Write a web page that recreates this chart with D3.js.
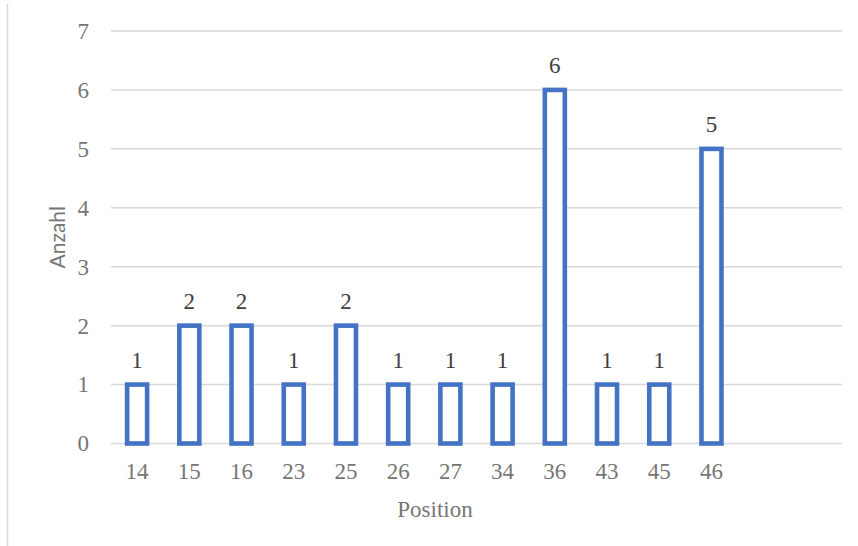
<!DOCTYPE html>
<html>
<head>
<meta charset="utf-8">
<script src="https://cdn.jsdelivr.net/npm/d3@7"></script>
<style>
  html, body { margin: 0; padding: 0; background: #fff; }
  svg text { font-family: "Liberation Serif", "Times New Roman", serif; }
  svg text.sans { font-family: Lato, Carlito, "Liberation Sans", sans-serif; }
</style>
</head>
<body>
<svg id="chart" width="858" height="546"></svg>
<script>
// Positions on the x axis (two trailing empty slots keep the axis width)
const positions = ["14", "15", "16", "23", "25", "26", "27", "34", "36", "43", "45", "46", "", " "];
const counts = [1, 2, 2, 1, 2, 1, 1, 1, 6, 1, 1, 5];
const yTicks = [0, 1, 2, 3, 4, 5, 6, 7];

const svg = d3.select("#chart");
const W = 858, H = 546;
const plot = { left: 111, right: 842, top: 31, bottom: 443.5 };
const fontSize = 23;

// Outer frame line on the left edge
svg.append("line")
  .attr("x1", 7.5).attr("x2", 7.5).attr("y1", 4).attr("y2", H)
  .attr("stroke", "#d9d9d9").attr("stroke-width", 1.5);

const x = d3.scaleBand().domain(positions).range([plot.left, plot.right]).paddingInner(0).paddingOuter(0);
const y = d3.scaleLinear().domain([0, 7]).range([plot.bottom, plot.top]);

// Horizontal gridlines
svg.append("g").selectAll("line").data(yTicks).join("line")
  .attr("x1", plot.left).attr("x2", plot.right)
  .attr("y1", d => y(d)).attr("y2", d => y(d))
  .attr("stroke", "#d9d9d9").attr("stroke-width", 1.5);

// Y tick labels
const yAxis = d3.axisLeft(y).tickValues(yTicks).tickFormat(d3.format("d")).tickSize(0).tickPadding(0);
const gy = svg.append("g").attr("transform", `translate(${plot.left - 22},0)`).call(yAxis);
gy.select(".domain").remove();
gy.selectAll("text")
  .attr("font-family", null)
  .attr("font-size", fontSize).attr("fill", "#767676");

// X tick labels
const xAxis = d3.axisBottom(x).tickSize(0).tickPadding(0);
const gx = svg.append("g").attr("transform", `translate(0,${plot.bottom})`).call(xAxis);
gx.select(".domain").remove();
gx.selectAll("text")
  .attr("dy", null).attr("y", 35.5)
  .attr("font-size", fontSize).attr("fill", "#767676");

// Outlined bars
const barW = 20;
const data = counts.map((v, i) => ({ pos: positions[i], v }));
svg.append("g").selectAll("rect").data(data).join("rect")
  .attr("x", d => x(d.pos) + x.bandwidth() / 2 - barW / 2)
  .attr("width", barW)
  .attr("y", d => y(d.v))
  .attr("height", d => y(0) - y(d.v))
  .attr("fill", "#fff")
  .attr("stroke", "#4472c4")
  .attr("stroke-width", 4.6);

// Value labels above bars
svg.append("g").selectAll("text").data(data).join("text")
  .attr("x", d => x(d.pos) + x.bandwidth() / 2)
  .attr("y", d => y(d.v) - 17)
  .attr("text-anchor", "middle")
  .attr("font-size", fontSize).attr("fill", "#404040")
  .text(d => d.v);

// Axis titles
svg.append("text")
  .attr("x", 435).attr("y", 517)
  .attr("text-anchor", "middle")
  .attr("font-size", fontSize).attr("fill", "#767676")
  .text("Position");

svg.append("text")
  .attr("class", "sans")
  .attr("transform", `translate(65,${(plot.top + plot.bottom) / 2}) rotate(-90)`)
  .attr("text-anchor", "middle")
  .attr("font-size", 21).attr("fill", "#767676")
  .text("Anzahl");
</script>
</body>
</html>
